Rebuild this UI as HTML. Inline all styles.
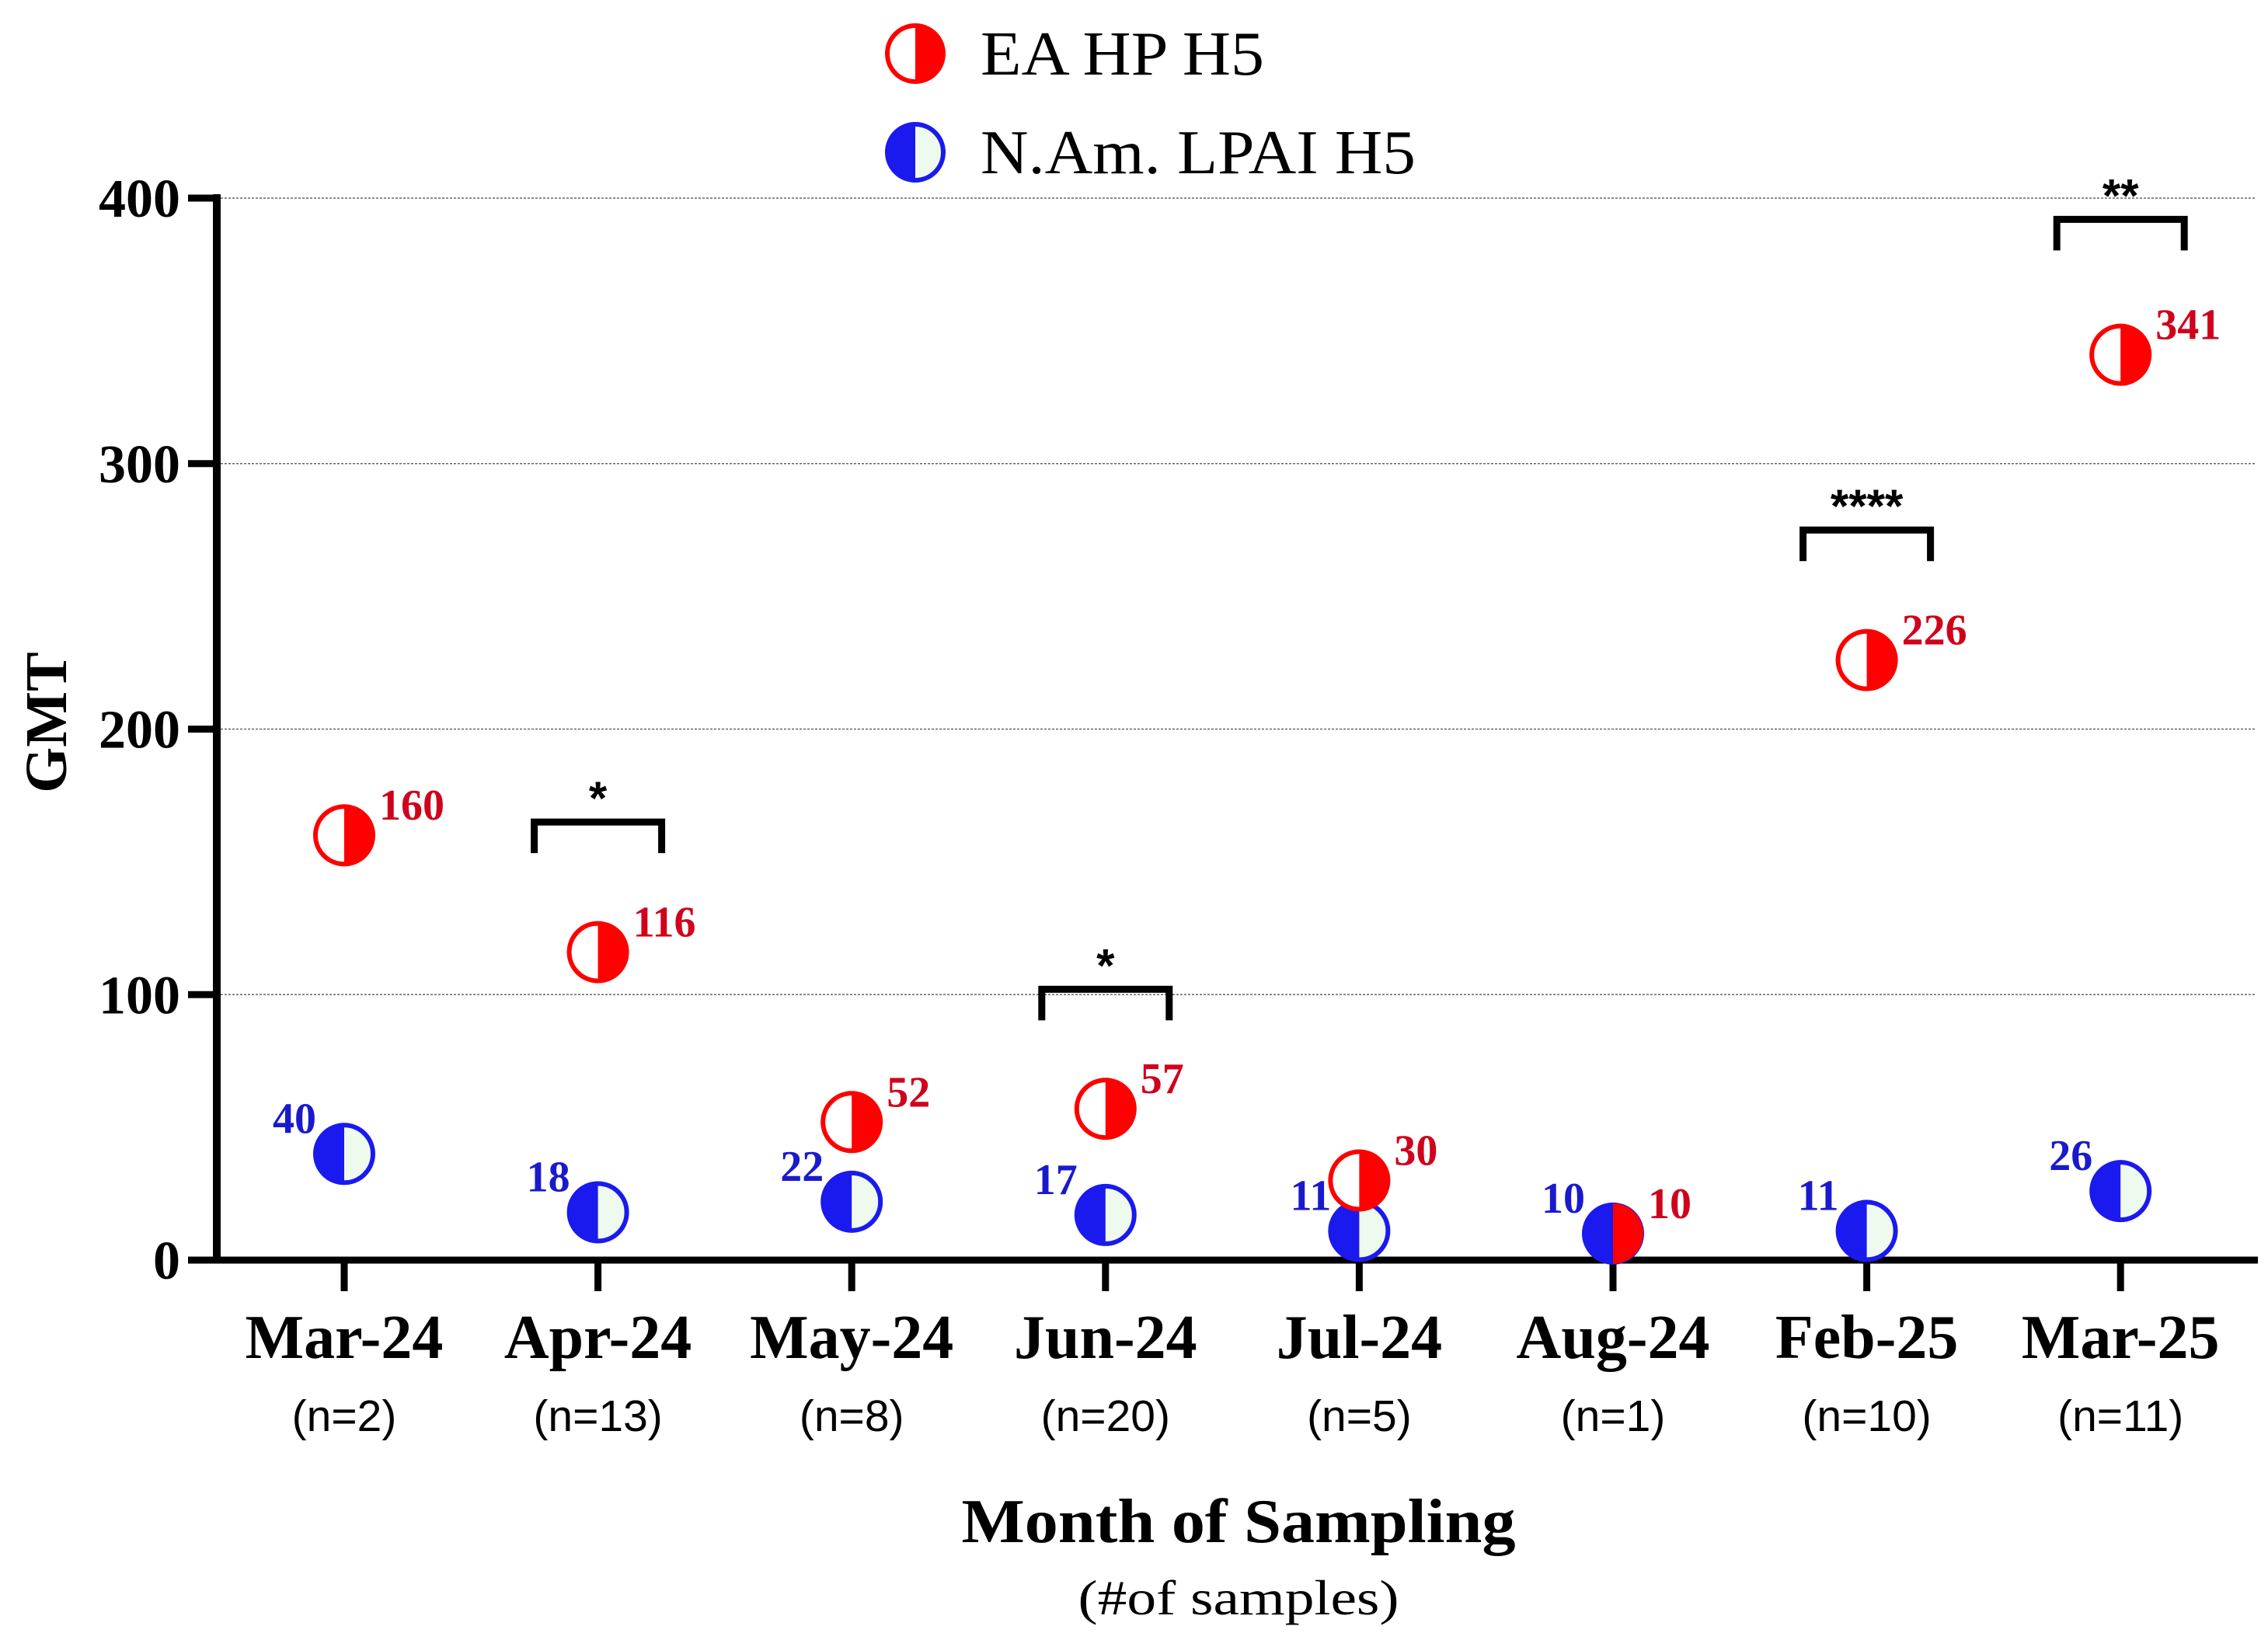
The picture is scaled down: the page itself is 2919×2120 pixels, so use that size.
<!DOCTYPE html>
<html><head><meta charset="utf-8"><style>
html,body{margin:0;padding:0;background:#fff;}
svg{display:block;}
</style></head><body>
<svg id="chart" width="2919" height="2120" viewBox="0 0 2919 2120" xmlns="http://www.w3.org/2000/svg">
<g id="grid"></g>
<g id="axes"></g>
<g id="marks"></g>
<g id="legend">
  <g>
    <path d="M1178,31 A38,38 0 0 1 1178,107 Z" fill="#ff0000"/>
    <circle cx="1178" cy="69" r="36" fill="none" stroke="#ff0000" stroke-width="6"/>
    <text x="1262" y="96" font-family="Liberation Serif, serif" font-size="80" textLength="365" lengthAdjust="spacingAndGlyphs" fill="#000">EA HP H5</text>
  </g>
  <g>
    <circle cx="1178" cy="196" r="36" fill="#eefaee" stroke="#1a1aee" stroke-width="6"/>
    <path d="M1178,158 A38,38 0 0 0 1178,234 Z" fill="#1a1aee"/>
    <text x="1262" y="223" font-family="Liberation Serif, serif" font-size="80" textLength="560" lengthAdjust="spacingAndGlyphs" fill="#000">N.Am. LPAI H5</text>
  </g>
</g>
<text x="1594" y="1985" text-anchor="middle" font-family="Liberation Serif, serif" font-weight="bold" font-size="80" textLength="713" lengthAdjust="spacingAndGlyphs">Month of Sampling</text>
<text x="1594" y="2078" text-anchor="middle" font-family="Liberation Serif, serif" font-size="64" textLength="413" lengthAdjust="spacingAndGlyphs">(#of samples)</text>
<text transform="translate(85,930) rotate(-90)" text-anchor="middle" font-family="Liberation Serif, serif" font-weight="bold" font-size="76">GMT</text>
</svg>
<script>
const categories = ["Mar-24","Apr-24","May-24","Jun-24","Jul-24","Aug-24","Feb-25","Mar-25"];
const sampleCounts = ["(n=2)","(n=13)","(n=8)","(n=20)","(n=5)","(n=1)","(n=10)","(n=11)"];
const eaValues = [160,116,52,57,30,10,226,341];
const namValues = [40,18,22,17,11,10,11,26];
const yTicks = [0,100,200,300,400];
const sigCategories = [1,3,6,7];
const sigLabels = ["*","*","****","**"];
const sigLevels = [165,102,275,392];

const NS="http://www.w3.org/2000/svg";
const X0=443, XSTEP=326.6, Y0=1622, YSCALE=3.4175;
function xPos(i){return X0+i*XSTEP;}
function yPos(v){return Y0-v*YSCALE;}
function mk(tag,attrs,parent,text){const e=document.createElementNS(NS,tag);for(const k in attrs)e.setAttribute(k,attrs[k]);if(text!==undefined)e.textContent=text;parent.appendChild(e);return e;}
const grid=document.getElementById('grid'),axes=document.getElementById('axes'),marks=document.getElementById('marks');

yTicks.forEach(t=>{
  const y=yPos(t);
  if(t>0){
    const g=mk('line',{x1:284,x2:2904,y1:y,y2:y,stroke:'#666','stroke-width':1.5,'stroke-dasharray':'3,2'},grid);
    
    
  }
  const tk=mk('line',{x1:242,x2:284,y1:y,y2:y,stroke:'#000','stroke-width':9},axes);
  
  
  const lb=mk('text',{x:232,y:y+24,'text-anchor':'end','font-family':'Liberation Serif, serif','font-weight':'bold','font-size':70},axes,String(t));
  
  
});
const ya=mk('line',{x1:279,x2:279,y1:250,y2:1626,stroke:'#000','stroke-width':10},axes);


const xa=mk('line',{x1:274,x2:2906,y1:Y0,y2:Y0,stroke:'#000','stroke-width':9},axes);



categories.forEach((c,i)=>{
  const x=xPos(i);
  const tk=mk('line',{x1:x,x2:x,y1:Y0,y2:Y0+40,stroke:'#000','stroke-width':9},axes);
  
  
  const lb=mk('text',{x:x,y:1748,'text-anchor':'middle','font-family':'Liberation Serif, serif','font-weight':'bold','font-size':80},axes,c);
  
  
  const n=mk('text',{x:x,y:1842,'text-anchor':'middle','font-family':'Liberation Sans, sans-serif','font-size':57},axes,sampleCounts[i]);
  
  
});

const R=37;
namValues.forEach((v,i)=>{
  const x=xPos(i),y=yPos(v);
  const g=mk('g',{},marks);
  
  
  mk('circle',{cx:x,cy:y,r:R,fill:'#eefaee',stroke:'#1a1aee','stroke-width':6},g);
  mk('path',{d:`M${x},${y-R-2} A${R+2},${R+2} 0 0 0 ${x},${y+R+2} Z`,fill:'#1a1aee'},g);
  const t=mk('text',{x:x-36,y:y-27,'text-anchor':'end','font-family':'Liberation Serif, serif','font-weight':'bold','font-size':56,fill:'#1a1acc'},marks,String(v));
  
  
});
eaValues.forEach((v,i)=>{
  const x=xPos(i),y=yPos(v);
  const g=mk('g',{},marks);
  
  
  const isOverlap = v===namValues[i];
  if(!isOverlap) mk('circle',{cx:x,cy:y,r:R,fill:'#fff'},g);
  mk('path',{d:`M${x},${y-R-2} A${R+2},${R+2} 0 0 1 ${x},${y+R+2} Z`,fill:'#ff0000'},g);
  if(!isOverlap) mk('circle',{cx:x,cy:y,r:R,fill:'none',stroke:'#ff0000','stroke-width':6},g);
  const t=mk('text',{x:x+45,y:y-20,'text-anchor':'start','font-family':'Liberation Serif, serif','font-weight':'bold','font-size':56,fill:'#d0021b'},marks,String(v));
  
  
});

sigCategories.forEach((ci,k)=>{
  const x=xPos(ci),y=yPos(sigLevels[k]);
  const g=mk('g',{},marks);
  
  
  mk('path',{d:`M${x-82},${y+40} L${x-82},${y} L${x+82},${y} L${x+82},${y+40}`,fill:'none',stroke:'#000','stroke-width':9},g);
  mk('text',{x:x,y:y-10,'text-anchor':'middle','font-family':'Liberation Sans, sans-serif','font-weight':'bold','font-size':60},g,sigLabels[k]);
});
</script>
</body></html>
